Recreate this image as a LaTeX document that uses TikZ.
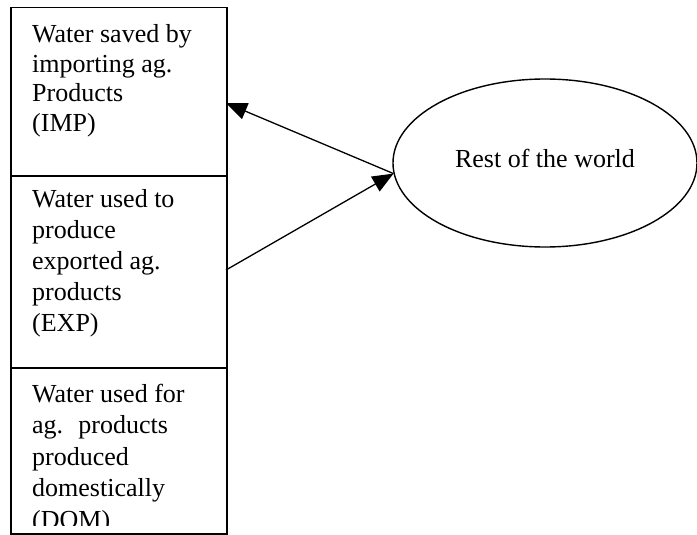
\documentclass[tikz,border=0pt]{standalone}
\usepackage{fontspec}
\setmainfont{Liberation Serif}
\usetikzlibrary{shapes.geometric,arrows.meta}
\tikzset{
  panel/.style={draw, line width=1.5pt, rectangle, minimum width=216pt, inner sep=0pt, anchor=north west},
  paneltext/.style={anchor=north west, align=left, inner sep=0pt, font=\fontsize{26}{#1}\selectfont},
  world/.style={draw, ellipse, line width=1.4pt, minimum width=304pt, minimum height=168pt, inner sep=0pt},
  flow/.style={line width=1.3pt, -{Triangle[length=21pt,width=17pt]}}
}
\begin{document}
\begin{tikzpicture}[x=1pt,y=-1pt]
\useasboundingbox (0,0) rectangle (697,535);
\node[panel, minimum height=168pt] (imp) at (10,7) {};
\node[panel, minimum height=192pt] (exp) at (10,175) {};
\node[panel, minimum height=166pt] (dom) at (10,367) {};
\node[paneltext=29.5] (imptext) at (32,22) {\strut Water saved by\\importing ag.\\Products\\(IMP)};
\node[paneltext=31] (exptext) at (32,186) {\strut Water used to\\produce\\exported ag.\\products\\(EXP)};
\begin{scope}
\clip (10,367) rectangle (226,525);
\node[paneltext=31.5] (domtext) at (32,380) {\strut Water used for\\ag.~ products\\produced\\domestically\\(DOM)};
\end{scope}
\node[world] (rw) at (545,163) {};
\node[font=\fontsize{26}{30}\selectfont, inner sep=0pt] (rwtext) at (545,158) {Rest of the world};
\coordinate (meet) at (rw.184.6);
\coordinate (impend) at (226,103);
\coordinate (expstart) at (226,270);
\draw[flow] (meet) -- (impend);
\draw[flow] (expstart) -- (meet);
\end{tikzpicture}
\end{document}
